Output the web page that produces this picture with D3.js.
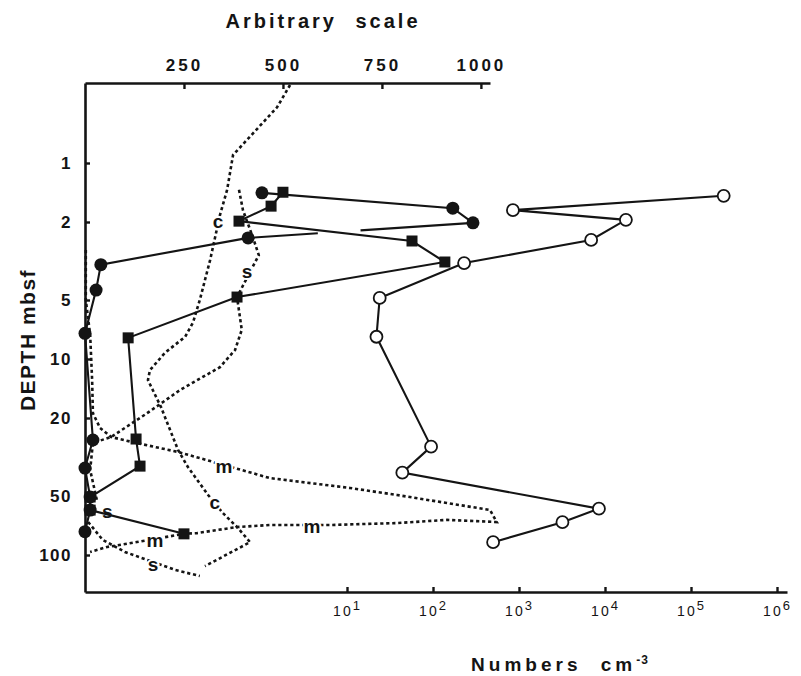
<!DOCTYPE html>
<html><head><meta charset="utf-8">
<script src="https://cdn.jsdelivr.net/npm/d3@7"></script>
<style>
html,body{margin:0;background:#fff;}
svg{display:block;font-family:"Liberation Sans",Arial,Helvetica,sans-serif;}
</style></head><body>
<svg id="chart" width="801" height="676"></svg>
<script>
// ---- axis ticks ----
const depthTicks = [1, 2, 5, 10, 20, 50, 100];
const arbTicks = [250, 500, 750, 1000];
const countTicks = [1e1, 1e2, 1e3, 1e4, 1e5, 1e6];

// ---- total counts, numbers cm-3 (open circles, lower log axis) ----
const openDepth = [1.47, 1.74, 1.95, 2.47, 3.24, 4.88, 7.7, 28, 38, 58, 68, 86];
const openCount = [2.4e5, 850, 1.75e4, 6900, 230, 24, 22, 95, 44, 8500, 3200, 500];

// ---- filled circles, arbitrary scale ----
const dotDepth = [1.42, 1.70, 2.02, 2.41, 3.3, 4.45, 7.4, 25.9, 36, 50.6, 59, 76];
const dotValue = [447, 929, 980, 412, 40, 28, 0, 20, 0, 13, 13, 0];

// ---- filled squares, arbitrary scale ----
const sqDepth = [1.41, 1.66, 1.98, 2.50, 3.20, 4.83, 7.8, 25.6, 35.2, 50.6, 59, 78];
const sqValue = [500, 470, 389, 826, 909, 384, 109, 129, 139, 13, 13, 250];

// ---- dotted profiles (c, s, m), arbitrary scale ----
const cDepth = [0.40, 0.52, 0.91, 1.37, 1.84, 3.13, 5.0, 6.5, 7.7, 9.3, 11.4, 12.8, 17.6, 29.1, 35.6, 49.4, 61, 72, 86, 114];
const cValue = [518, 485, 374, 359, 341, 316, 290, 273, 253, 202, 164, 159, 192, 235, 260, 311, 348, 384, 417, 303];

const sDepth = [1.37, 1.74, 2.33, 2.95, 4.83, 7.1, 9.0, 11.0, 14.4, 18.9, 25.0, 26.8, 36.8, 52.5];
const sValue = [389, 399, 422, 439, 384, 396, 379, 341, 240, 157, 66, 20, 13, 30];

const mDepth = [2.78, 5.0, 7.5, 12.8, 18.9, 22.5, 25.0, 26.8, 29.8, 40.5, 45.5, 49.4, 54.3, 58.9, 67.9, 66.2, 68.7, 70.3, 70.3, 72, 77.3, 78, 85.9, 91, 96.5];
const mValue = [2, 2, 13, 18, 20, 38, 66, 129, 235, 467, 669, 788, 914, 1023, 1040, 914, 788, 619, 467, 384, 283, 250, 131, 56, 13];

const s2Depth = [67.9, 83.8, 96.5, 119, 128];
const s2Value = [8, 45, 101, 227, 290];

// ---- curve labels ----
const labelText = ["c", "s", "m", "c", "m", "s", "m", "s"];
const labelValue = [336, 409, 351, 328, 573, 56, 177, 172];
const labelDepth = [2.0, 3.6, 35.6, 54.3, 72, 60.4, 84.6, 112];

// ---- scales ----
const ink = "#141414";
const svg = d3.select("#chart");

const y = d3.scaleLog().domain([1, 100]).range([163, 555]);
y.domain([y.invert(83), y.invert(592)]).range([83, 592]);

const xArb = d3.scaleLinear().domain([0, 1023]).range([85, 490]);

const xNum = d3.scaleLog().domain([10, 1e6]).range([347, 777]);
xNum.domain([xNum.invert(85), xNum.invert(787)]).range([85, 787]);

const zip = (ds, vs) => ds.map((d, i) => ({d, v: vs[i]}));
const lineArb = d3.line().x(p => xArb(p.v)).y(p => y(p.d));
const lineNum = d3.line().x(p => xNum(p.v)).y(p => y(p.d));

// ---- axes ----
function styleAxis(g) {
  g.select(".domain").attr("stroke", ink).attr("stroke-width", 2.6);
  g.selectAll(".tick line").attr("stroke", ink).attr("stroke-width", 2.4);
  g.selectAll(".tick text").attr("fill", ink).attr("font-weight", "bold");
}

const gTop = svg.append("g").attr("transform", "translate(0,83)")
  .call(d3.axisTop(xArb).tickValues(arbTicks).tickFormat(d3.format("d"))
    .tickSizeInner(-6).tickSizeOuter(0).tickPadding(12))
  .call(styleAxis);
gTop.selectAll(".tick text").attr("font-size", 17).attr("letter-spacing", 3);

const gLeft = svg.append("g").attr("transform", "translate(85,0)")
  .call(d3.axisLeft(y).tickValues(depthTicks).tickFormat(d3.format("d"))
    .tickSizeInner(-5).tickSizeOuter(0).tickPadding(13))
  .call(styleAxis);
gLeft.selectAll(".tick text").attr("font-size", 17).attr("letter-spacing", 1.5);

const gBottom = svg.append("g").attr("transform", "translate(0,592)")
  .call(d3.axisBottom(xNum).tickValues(countTicks).tickSizeInner(-5).tickSizeOuter(0)
    .tickPadding(14).tickFormat(""))
  .call(styleAxis);
gBottom.selectAll(".tick text")
  .attr("font-size", 14).attr("font-weight", "normal").attr("letter-spacing", 2)
  .each(function(d) {
    const t = d3.select(this);
    t.append("tspan").text("10");
    t.append("tspan").attr("dy", -6).attr("font-size", 13).text(Math.round(Math.log10(d)));
  });

// axis titles
svg.append("text").attr("x", 323).attr("y", 28).attr("text-anchor", "middle")
  .attr("font-size", 20).attr("font-weight", "bold").attr("letter-spacing", 3).attr("word-spacing", 10)
  .attr("fill", ink).text("Arbitrary scale");

svg.append("text").attr("transform", "translate(35,340) rotate(-90)").attr("text-anchor", "middle")
  .attr("font-size", 21).attr("font-weight", "bold").attr("letter-spacing", 1.5)
  .attr("fill", ink).text("DEPTH mbsf");

const xt = svg.append("text").attr("x", 560).attr("y", 671).attr("text-anchor", "middle")
  .attr("font-size", 19).attr("font-weight", "bold").attr("letter-spacing", 4).attr("word-spacing", 10)
  .attr("fill", ink);
xt.append("tspan").text("Numbers cm");
xt.append("tspan").attr("dy", -7).attr("font-size", 12).attr("letter-spacing", 1).text("-3");

// ---- dotted profiles ----
const dotted = [zip(cDepth, cValue), zip(sDepth, sValue), zip(mDepth, mValue), zip(s2Depth, s2Value)];
svg.append("g").selectAll("path").data(dotted).join("path")
  .attr("d", lineArb).attr("fill", "none").attr("stroke", ink)
  .attr("stroke-width", 2.6).attr("stroke-dasharray", "3.2,2.8");

// curve labels
svg.append("g").selectAll("text").data(labelText).join("text")
  .attr("x", (t, i) => xArb(labelValue[i])).attr("y", (t, i) => y(labelDepth[i]))
  .attr("dy", "0.32em").attr("text-anchor", "middle")
  .attr("font-size", 19).attr("font-weight", "bold").attr("fill", ink)
  .attr("stroke", "#fff").attr("stroke-width", 4).attr("paint-order", "stroke")
  .text(t => t);

// ---- solid profiles ----
const solid = svg.append("g").attr("fill", "none").attr("stroke", ink).attr("stroke-width", 2.1);
const dots = zip(dotDepth, dotValue);
const squares = zip(sqDepth, sqValue);
const opens = zip(openDepth, openCount);

solid.append("path").attr("d", lineArb(squares));
solid.append("path").attr("d", lineArb(dots.slice(0, 3)));
solid.append("path").attr("d", lineArb(dots.slice(3)));
// the segment between the 3rd and 4th filled circles is drawn with a break
const brk = solid.append("path").attr("d", lineArb(dots.slice(2, 4)));
const L = brk.node().getTotalLength();
brk.attr("stroke-dasharray", `${L * 0.50},${L * 0.19},${L}`);
solid.append("path").attr("d", lineNum(opens));

// ---- markers ----
svg.append("g").selectAll("rect").data(squares).join("rect")
  .attr("x", p => xArb(p.v) - 5.5).attr("y", p => y(p.d) - 5.5)
  .attr("width", 11).attr("height", 11).attr("fill", ink);

svg.append("g").selectAll("circle").data(dots).join("circle")
  .attr("cx", p => xArb(p.v)).attr("cy", p => y(p.d)).attr("r", 6.5).attr("fill", ink);

svg.append("g").selectAll("circle").data(opens).join("circle")
  .attr("cx", p => xNum(p.v)).attr("cy", p => y(p.d)).attr("r", 6)
  .attr("fill", "#fff").attr("stroke", ink).attr("stroke-width", 1.8);
</script>
</body></html>
